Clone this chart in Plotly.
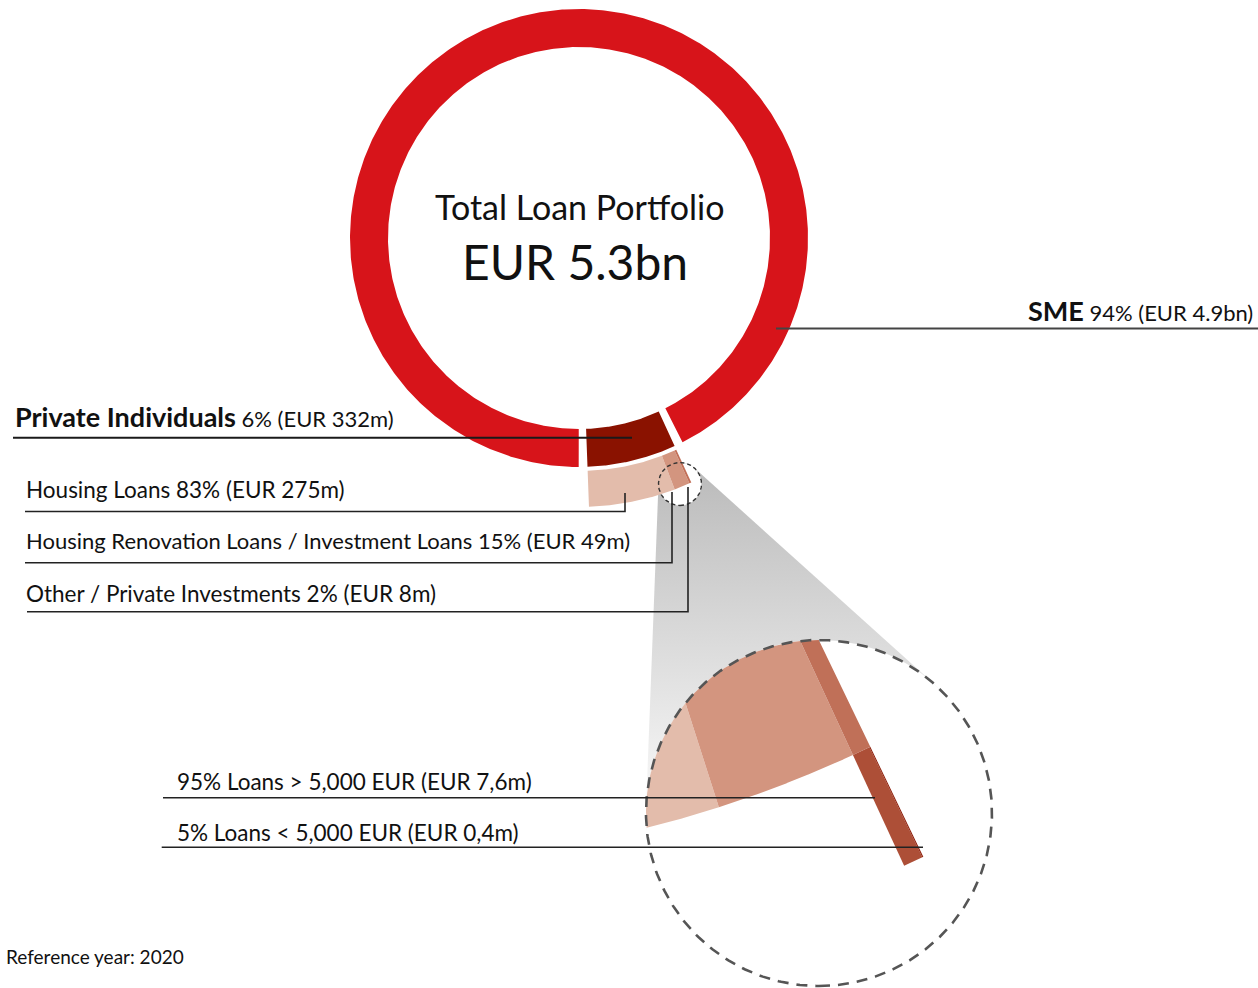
import numpy as np
import plotly.graph_objects as go

# ---------------- data ----------------
total_label = "EUR 5.3bn"
total_amount_m = 5300
segments = ["SME", "Private Individuals"]
segment_pct = [94, 6]
segment_amount_text = ["EUR 4.9bn", "EUR 332m"]
private_amount_m = 332

private_sub = ["Housing Loans", "Housing Renovation Loans / Investment Loans",
               "Other / Private Investments"]
private_sub_pct = [83, 15, 2]
private_sub_amount_text = ["EUR 275m", "EUR 49m", "EUR 8m"]

other_split = ["Loans > 5,000 EUR", "Loans < 5,000 EUR"]
other_split_pct = [95, 5]
other_split_amount_text = ["EUR 7,6m", "EUR 0,4m"]

reference_year = 2020

# ---------------- layout constants ----------------
W, H = 1258, 988
FONT = "Lato"
C = np.array([579.0, 238.0])          # main ring centre
R_IN, R_OUT = 191.0, 229.0
SUB_IN, SUB_OUT = 233.0, 269.0
GAP = 2.2                               # degrees
PRIV_CENTER = 13.4                      # degrees from bottom
CS, RS = np.array([680.0, 484.0]), 21.5   # small magnifier
CB, RB = np.array([819.0, 813.0]), 173.0  # big magnifier
CZ = np.array([362.0, -307.0])          # virtual centre of zoomed ring
RZ_OUT, RZ_EXT = 1170.0, 1292.0
Z_OTHER_END = 25.75
Z_K = 0.47                              # zoom degrees per percent

COL_SME = "#d7141a"
COL_PRIV = "#8a1200"
COL_SUB = ["#e3bcab", "#d3957f", "#c26f57"]
COL_SPLIT = ["#ad4f37", "#8c1a06"]
COL_OTHER_Z = "#c07058"


def pt(center, r, a_deg):
    a = np.radians(a_deg)
    return center[0] + r * np.sin(a), center[1] + r * np.cos(a)


def sector(center, r0, r1, a0, a1, n=200):
    a = np.linspace(a0, a1, n)
    xo, yo = pt(center, r1, a)
    xi, yi = pt(center, r0, a[::-1])
    x = np.concatenate([xo, xi, xo[:1]])
    y = np.concatenate([yo, yi, yo[:1]])
    return x, y


def clipped_sector(center, r0, r1, a0, a1, n=1200):
    """annular sector around `center` intersected with the big magnifier disc"""
    a = np.linspace(a0, a1, n)
    w = CB - center
    ww = w @ w
    outer, inner = [], []
    for ang in a:
        d = np.array([np.sin(np.radians(ang)), np.cos(np.radians(ang))])
        b = d @ w
        disc = b * b - (ww - RB * RB)
        if disc < 0:
            continue
        t1, t2 = b - np.sqrt(disc), b + np.sqrt(disc)
        lo, hi = max(t1, r0), min(t2, r1)
        if lo < hi:
            outer.append(center + hi * d)
            inner.append(center + lo * d)
    if not outer:
        return np.array([]), np.array([])
    pts = np.array(outer + inner[::-1] + outer[:1])
    return pts[:, 0], pts[:, 1]


def circle(center, r, n=360):
    a = np.linspace(0, 360, n)
    return pt(center, r, a)


def hull(points):
    pts = sorted(map(tuple, points))

    def cross(o, a, b):
        return (a[0] - o[0]) * (b[1] - o[1]) - (a[1] - o[1]) * (b[0] - o[0])
    lower, upper = [], []
    for p in pts:
        while len(lower) >= 2 and cross(lower[-2], lower[-1], p) <= 0:
            lower.pop()
        lower.append(p)
    for p in reversed(pts):
        while len(upper) >= 2 and cross(upper[-2], upper[-1], p) <= 0:
            upper.pop()
        upper.append(p)
    h = np.array(lower[:-1] + upper[:-1] + lower[:1])
    return h[:, 0], h[:, 1]


fig = go.Figure()


def poly(x, y, color, **kw):
    fig.add_trace(go.Scatter(x=x, y=y, mode="lines", fill="toself",
                             fillcolor=color, line=dict(width=0, color=color),
                             hoverinfo="skip", showlegend=False, **kw))


def line(xs, ys, color="#222", width=1.6, dash=None):
    fig.add_trace(go.Scatter(x=xs, y=ys, mode="lines",
                             line=dict(color=color, width=width, dash=dash),
                             hoverinfo="skip", showlegend=False))


# ---- gray magnifier cone ----
sx, sy = circle(CS, RS, 180)
bx, by = circle(CB, RB, 360)
hx, hy = hull(np.column_stack([np.concatenate([sx, bx]), np.concatenate([sy, by])]))
fig.add_trace(go.Scatter(x=hx, y=hy, mode="lines", fill="toself",
                         fillgradient=dict(type="vertical",
                                           colorscale=[[0, "#bdbdbd"], [1, "#f6f6f6"]],
                                           start=480, stop=790),
                         line=dict(width=0), hoverinfo="skip", showlegend=False))
poly(bx, by, "white")
poly(sx, sy, "white")

# ---- main ring ----
priv_span = 360.0 * private_amount_m / total_amount_m
p0, p1 = PRIV_CENTER - priv_span / 2, PRIV_CENTER + priv_span / 2
x, y = sector(C, R_IN, R_OUT, p1 + GAP, p0 + 360 - GAP, 600)
poly(x, y, COL_SME)
x, y = sector(C, R_IN, R_OUT, p0, p1, 80)
poly(x, y, COL_PRIV)

# ---- private sub ring ----
edges = p0 + np.concatenate([[0], np.cumsum(private_sub_pct)]) / 100.0 * priv_span
for i in range(len(private_sub_pct)):
    x, y = sector(C, SUB_IN, SUB_OUT, edges[i], edges[i + 1], 60)
    poly(x, y, COL_SUB[i])

# ---- zoomed view ----
zedges = Z_OTHER_END - Z_K * (100 - np.concatenate([[0], np.cumsum(private_sub_pct)]))
zcols = [COL_SUB[0], COL_SUB[1], COL_OTHER_Z]
for i in range(len(private_sub_pct)):
    x, y = clipped_sector(CZ, 0, RZ_OUT, zedges[i], zedges[i + 1])
    poly(x, y, zcols[i])
sedges = zedges[2] + np.concatenate([[0], np.cumsum(other_split_pct)]) / 100.0 * (zedges[3] - zedges[2])
for i in range(len(other_split_pct)):
    x, y = clipped_sector(CZ, RZ_OUT, RZ_EXT, sedges[i], sedges[i + 1], 60)
    poly(x, y, COL_SPLIT[i])

# ---- magnifier outlines ----
x, y = circle(CS, RS, 200)
line(x, y, color="#333", width=1.4, dash="4px,3px")
x, y = circle(CB, RB, 400)
line(x, y, color="#555", width=2.6, dash="11px,8px")

# ---- leader lines ----
line([776, W], [328.5, 328.5], color="#444", width=2)
line([13, 632], [437.7, 437.7], color="#1a1a1a", width=2)
line([25, 625, 625], [511.5, 511.5, 493], width=1.6)
line([25, 672, 672], [562.7, 562.7, 492], width=1.6)
line([27, 688, 688], [611.7, 611.7, 487], width=1.6)
line([163, 875], [797.7, 797.7], width=1.6)
line([161.7, 923], [847.3, 847.3], width=1.6)

# ---- text ----
ann = []


def text(x, y, s, size=22, anchor="left"):
    ann.append(dict(x=x, y=y, xref="x", yref="y", text=s, showarrow=False,
                    xanchor=anchor, yanchor="middle",
                    font=dict(family=FONT, size=size, color="#111")))


text(580, 206, "Total Loan Portfolio", 34, "center")
text(574.5, 261, total_label, 48, "center")
text(1255, 310, f"<span style='font-size:27px'><b>{segments[0]}</b></span> "
     f"{segment_pct[0]}% ({segment_amount_text[0]})", 22, "right")
text(13, 416, f"<span style='font-size:27px'><b>{segments[1]}</b></span> "
     f"{segment_pct[1]}% ({segment_amount_text[1]})", 22, "left")
for i, (yy, sz) in enumerate(zip([489, 540, 593], [22.5, 22, 22.5])):
    text(24, yy, f"{private_sub[i]} {private_sub_pct[i]}% ({private_sub_amount_text[i]})", sz)
for i, yy in enumerate([781, 832]):
    text(175, yy, f"{other_split_pct[i]}% {other_split[i]} ({other_split_amount_text[i]})", 22.5)
text(4, 956, f"Reference year: {reference_year}", 19)

fig.update_layout(
    width=W, height=H, margin=dict(l=0, r=0, t=0, b=0),
    paper_bgcolor="white", plot_bgcolor="white",
    xaxis=dict(range=[0, W], visible=False, fixedrange=True),
    yaxis=dict(range=[H, 0], visible=False, fixedrange=True),
    annotations=ann, showlegend=False,
)

fig.write_html("out.html", config={"displayModeBar": False},
               post_script="document.body.style.margin='0';document.body.style.overflow='hidden';")
